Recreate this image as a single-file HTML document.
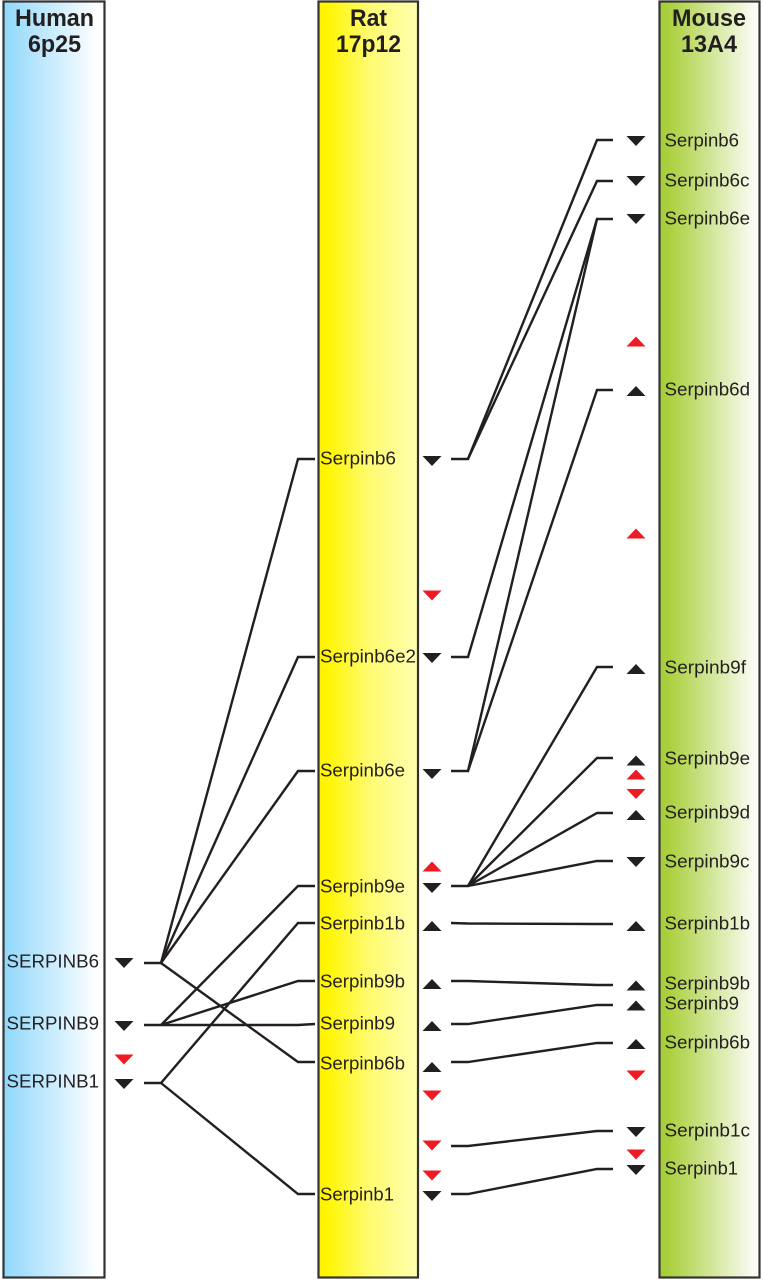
<!DOCTYPE html>
<html><head><meta charset="utf-8"><style>
html,body{margin:0;padding:0;background:#fff}
svg{display:block}
text{font-family:"Liberation Sans",sans-serif;fill:#231f20;font-size:18.5px}
.h{font-weight:bold;font-size:24px;text-anchor:middle;}
.l{fill:none;stroke:#231f20;stroke-width:2.4}
.k{fill:#231f20}.r{fill:#ed1c24}
</style></head><body>
<svg width="763" height="1280" viewBox="0 0 763 1280">
<defs>
<linearGradient id="a"><stop offset="0" stop-color="#8fd8fb"/><stop offset=".05" stop-color="#96dafb"/><stop offset=".92" stop-color="#fdfeff"/><stop offset="1" stop-color="#fff"/></linearGradient>
<linearGradient id="b"><stop offset="0" stop-color="#fff200"/><stop offset=".08" stop-color="#fff500"/><stop offset=".5" stop-color="#fffb6e"/><stop offset="1" stop-color="#ffffb0"/></linearGradient>
<linearGradient id="c"><stop offset="0" stop-color="#a6cd39"/><stop offset=".1" stop-color="#abd03f"/><stop offset="1" stop-color="#fff"/></linearGradient>
</defs>
<rect x="3.5" y="1.5" width="101" height="1276" fill="url(#a)" stroke="#333" stroke-width="2.2"/>
<rect x="318.5" y="1.5" width="99.500" height="1276" fill="url(#b)" stroke="#333" stroke-width="2.2"/>
<rect x="659.5" y="1.500" width="100" height="1276" fill="url(#c)" stroke="#333" stroke-width="2.2"/>

<text class="h" x="54.500" y="26" textLength="79" lengthAdjust="spacingAndGlyphs">Human</text>
<text class="h" x="54.500" y="52" textLength="53" lengthAdjust="spacingAndGlyphs">6p25</text>
<text class="h" x="368.500" y="26" textLength="37" lengthAdjust="spacingAndGlyphs">Rat</text>
<text class="h" x="368.500" y="52" textLength="65" lengthAdjust="spacingAndGlyphs">17p12</text>
<text class="h" x="709" y="26" textLength="74" lengthAdjust="spacingAndGlyphs">Mouse</text>
<text class="h" x="709" y="52" textLength="56" lengthAdjust="spacingAndGlyphs">13A4</text>

<!-- Human labels -->
<text x="6.500" y="967.500" textLength="92.500" lengthAdjust="spacingAndGlyphs">SERPINB6</text>
<text x="6.500" y="1029.500" textLength="92.500" lengthAdjust="spacingAndGlyphs">SERPINB9</text>
<text x="6.500" y="1087.500" textLength="92.500" lengthAdjust="spacingAndGlyphs">SERPINB1</text>
<!-- Rat labels -->
<g>
<text x="320" y="464.500" textLength="76" lengthAdjust="spacingAndGlyphs">Serpinb6</text>
<text x="320" y="662.500" textLength="96" lengthAdjust="spacingAndGlyphs">Serpinb6e2</text>
<text x="320" y="776.500" textLength="85" lengthAdjust="spacingAndGlyphs">Serpinb6e</text>
<text x="320" y="892.500" textLength="85" lengthAdjust="spacingAndGlyphs">Serpinb9e</text>
<text x="320" y="929.500" textLength="85" lengthAdjust="spacingAndGlyphs">Serpinb1b</text>
<text x="320" y="987.500" textLength="85" lengthAdjust="spacingAndGlyphs">Serpinb9b</text>
<text x="320" y="1029.500" textLength="75" lengthAdjust="spacingAndGlyphs">Serpinb9</text>
<text x="320" y="1069.500" textLength="85" lengthAdjust="spacingAndGlyphs">Serpinb6b</text>
<text x="320" y="1200.500" textLength="74" lengthAdjust="spacingAndGlyphs">Serpinb1</text>
</g>
<!-- Mouse labels -->
<g>
<text x="664.500" y="146.500" textLength="74.500" lengthAdjust="spacingAndGlyphs">Serpinb6</text>
<text x="664.500" y="186.500" textLength="85" lengthAdjust="spacingAndGlyphs">Serpinb6c</text>
<text x="664.500" y="224.500" textLength="85.500" lengthAdjust="spacingAndGlyphs">Serpinb6e</text>
<text x="664.500" y="395.500" textLength="85.500" lengthAdjust="spacingAndGlyphs">Serpinb6d</text>
<text x="664.500" y="673.500" textLength="81.500" lengthAdjust="spacingAndGlyphs">Serpinb9f</text>
<text x="664.500" y="764.500" textLength="85.500" lengthAdjust="spacingAndGlyphs">Serpinb9e</text>
<text x="664.500" y="818.500" textLength="85.500" lengthAdjust="spacingAndGlyphs">Serpinb9d</text>
<text x="664.500" y="867.500" textLength="85" lengthAdjust="spacingAndGlyphs">Serpinb9c</text>
<text x="664.500" y="929.500" textLength="85.500" lengthAdjust="spacingAndGlyphs">Serpinb1b</text>
<text x="664.500" y="989.500" textLength="85.500" lengthAdjust="spacingAndGlyphs">Serpinb9b</text>
<text x="664.500" y="1009.500" textLength="74.500" lengthAdjust="spacingAndGlyphs">Serpinb9</text>
<text x="664.500" y="1048.500" textLength="85.500" lengthAdjust="spacingAndGlyphs">Serpinb6b</text>
<text x="664.500" y="1136.500" textLength="85.500" lengthAdjust="spacingAndGlyphs">Serpinb1c</text>
<text x="664.500" y="1174.500" textLength="73.500" lengthAdjust="spacingAndGlyphs">Serpinb1</text>
</g>

<!-- Human to rat connectors -->
<g class="l">
<path class="l" d="M144 963H161L298 459H315"/>
<path class="l" d="M161 963L298 657H315"/>
<path class="l" d="M161 963L298 771H315"/>
<path class="l" d="M161 963L298 1062H315"/>
<path class="l" d="M144 1025H161L298 886H315"/>
<path class="l" d="M161 1025L298 981H315"/>
<path class="l" d="M161 1025H298L315 1024"/>
<path class="l" d="M144 1083H161L298 923H315"/>
<path class="l" d="M161 1083L298 1194H315"/>
<!-- Rat to mouse connectors -->
<path class="l" d="M451 459H468L597 140H613"/>
<path class="l" d="M468 459L597 181H613"/>
<path class="l" d="M451 657H468L597 219H613"/>
<path class="l" d="M451 771H468L597 219"/>
<path class="l" d="M468 771L597 390H613"/>
<path class="l" d="M451 886H468L597 667H613"/>
<path class="l" d="M468 886L597 758H613"/>
<path class="l" d="M468 886L597 813H613"/>
<path class="l" d="M468 886L597 861H613"/>
<path class="l" d="M451 923L468 923.500L597 924H613"/>
<path class="l" d="M451 981H468L597 985H613"/>
<path class="l" d="M451 1024H468L597 1005H613"/>
<path class="l" d="M451 1062H468L597 1043H613"/>
<path class="l" d="M451 1146H468L597 1131H613"/>
<path class="l" d="M451 1194H468L597 1169H613"/>
</g>

<!-- Triangles -->
<path class="k" d="M114.500 958h19l-9.500 10z M114.500 1021h19l-9.500 10z M114.500 1079h19l-9.500 10z"/>
<path class="r" d="M114.500 1054.500h19l-9.500 10z"/>

<path class="k" d="M422.500 456h19l-9.500 10z M422.500 653h19l-9.500 10z M422.500 769h19l-9.500 10z M422.500 883h19l-9.500 10z M422.500 1191h19l-9.500 10z"/>
<path class="k" d="M422.500 931h19l-9.500-10z M422.500 989h19l-9.500-10z M422.500 1031h19l-9.500-10z M422.500 1072h19l-9.500-10z"/>
<path class="r" d="M422.500 590.500h19l-9.500 10z M422.500 1090.500h19l-9.500 10z M422.500 1140.500h19l-9.500 10z M422.500 1170.500h19l-9.500 10z"/>
<path class="r" d="M422.500 871.500h19l-9.500-10z"/>

<path class="k" d="M626.500 136h19l-9.500 10z M626.500 176h19l-9.500 10z M626.500 214h19l-9.500 10z M626.500 857h19l-9.500 10z M626.500 1127h19l-9.500 10z M626.500 1165h19l-9.500 10z"/>
<path class="k" d="M626.500 396h19l-9.500-10z M626.500 674h19l-9.500-10z M626.500 765.500h19l-9.500-10z M626.500 820h19l-9.500-10z M626.500 931h19l-9.500-10z M626.500 990.500h19l-9.500-10z M626.500 1010.500h19l-9.500-10z M626.500 1049h19l-9.500-10z"/>
<path class="r" d="M626.500 346.500h19l-9.500-10z M626.500 538.500h19l-9.500-10z M626.500 779.500h19l-9.500-10z"/>
<path class="r" d="M626.500 789h19l-9.500 10z M626.500 1070.500h19l-9.500 10z M626.500 1149.500h19l-9.500 10z"/>
</svg>
</body></html>
